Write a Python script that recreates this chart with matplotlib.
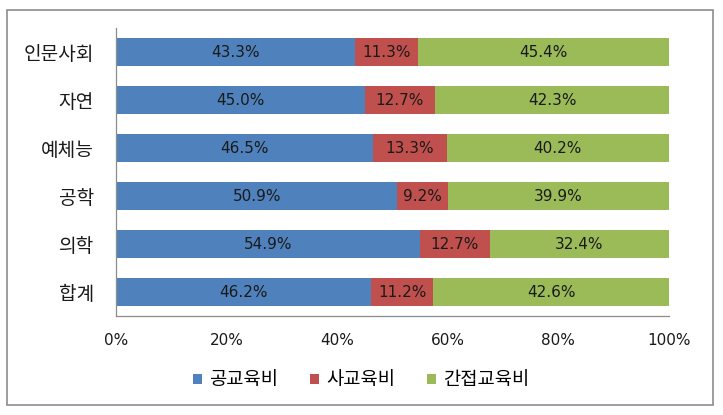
import matplotlib
matplotlib.use("Agg")
import matplotlib.pyplot as plt
from matplotlib.patches import Rectangle

plt.rcParams['font.family'] = ['Noto Sans CJK KR', 'DejaVu Sans']

categories = ['인문사회', '자연', '예체능', '공학', '의학', '합계']
public = [43.3, 45.0, 46.5, 50.9, 54.9, 46.2]
private = [11.3, 12.7, 13.3, 9.2, 12.7, 11.2]
indirect = [45.4, 42.3, 40.2, 39.9, 32.4, 42.6]
series_names = ['공교육비', '사교육비', '간접교육비']
colors = ['#4F81BD', '#C0504D', '#9BBB59']
xticks = [0, 20, 40, 60, 80, 100]
xtick_labels = ['0%', '20%', '40%', '60%', '80%', '100%']

fig = plt.figure(figsize=(7.23, 4.15), dpi=100)
ax = fig.add_axes([116/723, 1-316/415, (669-116)/723, (316-28)/415])

fig.patches.append(Rectangle((7/723, 1-405/415), (713-7)/723, (405-10)/415,
                             transform=fig.transFigure, fill=False,
                             edgecolor='#8c8c8c', linewidth=1.2, zorder=0))

y = list(range(len(categories)))
left = [0]*len(categories)
for vals, name, c in zip([public, private, indirect], series_names, colors):
    ax.barh(y, vals, left=left, height=0.57, color=c, label=name)
    for yi, l, v in zip(y, left, vals):
        ax.text(l + v/2, yi, f'{v:.1f}%', ha='center', va='center',
                fontsize=11, color='#1a1a1a', family=['DejaVu Sans'])
    left = [a + b for a, b in zip(left, vals)]

ax.set_xlim(0, 100)
ax.set_ylim(len(categories) - 0.5, -0.5)
ax.set_yticks(y)
ax.set_yticklabels(categories, fontsize=13.8, color='#1a1a1a')
ax.set_xticks(xticks)
ax.set_xticklabels(xtick_labels, fontsize=11, color='#1a1a1a', family=['DejaVu Sans'])
ax.tick_params(axis='y', length=0, pad=16)
ax.tick_params(axis='x', length=0, pad=12)
for s in ['top', 'right']:
    ax.spines[s].set_visible(False)
for s in ['left', 'bottom']:
    ax.spines[s].set_color('#8c8c8c')
    ax.spines[s].set_linewidth(0.9)

fig.legend(loc='center', bbox_to_anchor=(361/723, 1-380/415), ncol=3,
           frameon=False, fontsize=13.5, handlelength=0.5, handleheight=0.5,
           handletextpad=0.35, columnspacing=1.7)

fig.savefig('out.png', dpi=100)
